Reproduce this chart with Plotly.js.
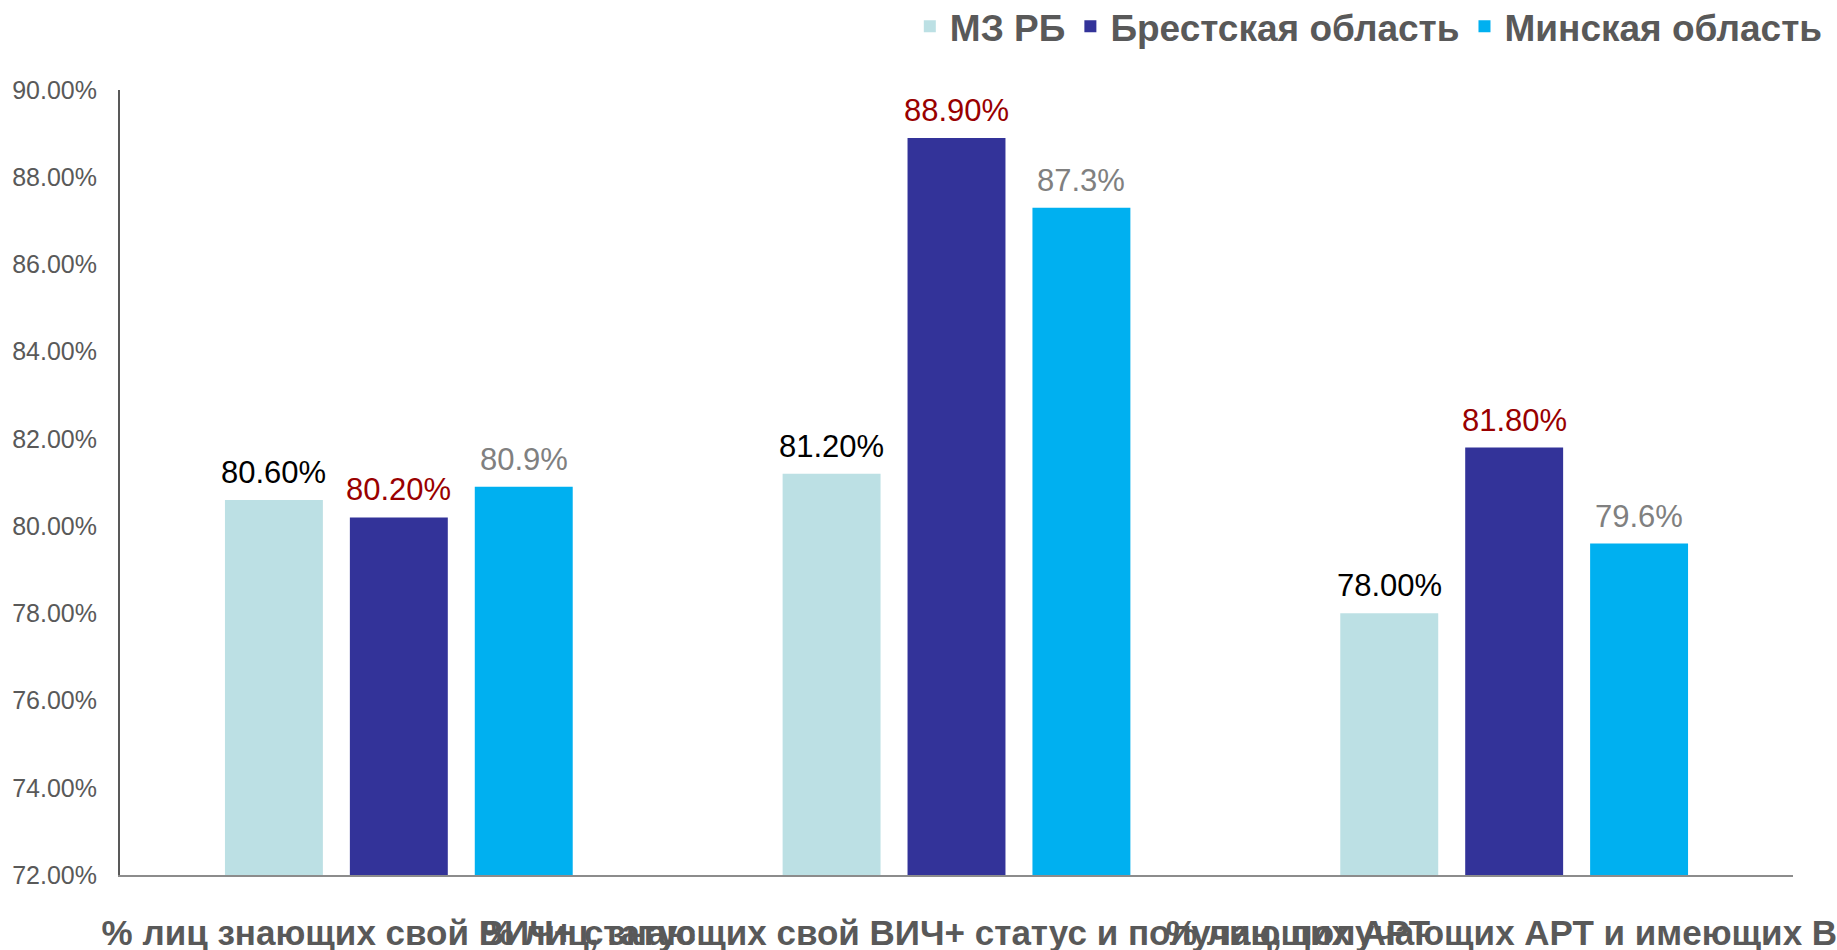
<!DOCTYPE html>
<html>
<head>
<meta charset="utf-8">
<script src="https://cdn.plot.ly/plotly-3.0.1.min.js"></script>
<style>
html,body{margin:0;padding:0;background:#fff;}
#chart{width:1837px;height:950px;}
</style>
</head>
<body>
<div id="chart"></div>
<script>
const categories = [
  "% лиц знающих свой ВИЧ+ статус",
  "% лиц, знающих свой ВИЧ+ статус и получающих АРТ",
  "% лиц, получающих АРТ и имеющих ВН"
];
const seriesNames = ["МЗ РБ", "Брестская область", "Минская область"];
const mzrb = [80.6, 81.2, 78.0];
const brest = [80.2, 88.9, 81.8];
const minsk = [80.9, 87.3, 79.6];
const mzrbLabels = ["80.60%", "81.20%", "78.00%"];
const brestLabels = ["80.20%", "88.90%", "81.80%"];
const minskLabels = ["80.9%", "87.3%", "79.6%"];
const yTicks = [72, 74, 76, 78, 80, 82, 84, 86, 88, 90];
const yTickText = ["72.00%", "74.00%", "76.00%", "78.00%", "80.00%", "82.00%", "84.00%", "86.00%", "88.00%", "90.00%"];

const FONT = "Liberation Sans, Arial, sans-serif";
const seriesColors = ["#BCE0E4", "#333399", "#00B0F0"];
const labelColors = ["#000000", "#990000", "#808080"];
const seriesValues = [mzrb, brest, minsk];
const seriesLabels = [mzrbLabels, brestLabels, minskLabels];

const data = seriesValues.map((vals, i) => ({
  type: "bar", name: seriesNames[i], x: categories, y: vals,
  marker: {color: seriesColors[i]},
  hoverinfo: "name+y"
}));

const plotL = 120, plotR = 44, W = 1837;
const catWidth = (W - plotL - plotR) / categories.length;
const bargap = 0.328;
const slot = catWidth * (1 - bargap) / seriesNames.length;

const annotations = [];
seriesValues.forEach((vals, i) => {
  vals.forEach((v, j) => {
    annotations.push({
      x: categories[j], y: v, xref: "x", yref: "y",
      text: seriesLabels[i][j], showarrow: false,
      xanchor: "center", yanchor: "bottom",
      xshift: (i - 1) * slot, yshift: 8,
      font: {family: FONT, size: 31, color: labelColors[i]}
    });
  });
});

const layout = {
  width: 1837, height: 950,
  margin: {l: plotL, r: plotR, t: 90, b: 75},
  paper_bgcolor: "#ffffff", plot_bgcolor: "#ffffff",
  barmode: "group", bargap: bargap, bargroupgap: 0.216,
  showlegend: true,
  legend: {
    orientation: "h", xref: "container", yref: "container",
    x: 0.995, xanchor: "right", y: 0.972, yanchor: "middle",
    font: {family: FONT, size: 37, color: "#595959", weight: "bold"},
    itemwidth: 30, tracegroupgap: 0
  },
  annotations: annotations,
  xaxis: {
    type: "category", tickangle: 0, showgrid: false, ticks: "",
    showline: true, linecolor: "#8c8c8c", linewidth: 2,
    tickfont: {family: FONT, size: 35, color: "#595959", weight: "bold"},
    ticklabelstandoff: 26, automargin: false
  },
  yaxis: {
    range: [72, 90], tickvals: yTicks, ticktext: yTickText,
    showgrid: false, zeroline: false, ticks: "",
    showline: true, linecolor: "#595959", linewidth: 2,
    tickfont: {family: FONT, size: 25, color: "#595959"},
    ticklabelstandoff: 16, automargin: false
  }
};
Plotly.newPlot("chart", data, layout, {displayModeBar: false, staticPlot: true});
</script>
</body>
</html>
